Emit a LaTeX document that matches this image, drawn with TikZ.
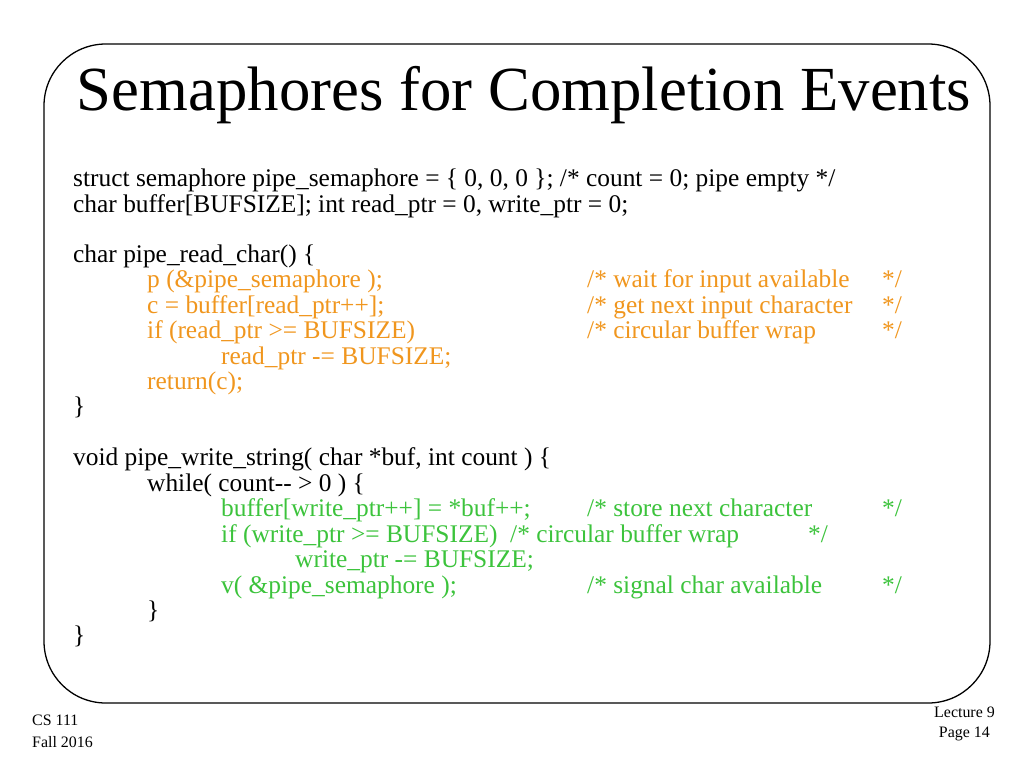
\documentclass[tikz,border=0pt]{standalone}
\usepackage{fontspec}
\setmainfont{Liberation Serif}
\definecolor{codeorange}{RGB}{240,150,30}
\definecolor{codegreen}{RGB}{60,195,60}
\tikzset{%
	% Style of the code lines
	Code/.style={anchor=base west,inner sep=0,font=\fontsize{25.5}{27}\selectfont},
	% Style of the footer text
	Foot/.style={inner sep=0,font=\fontsize{16}{18}\selectfont},
	% Style of the frame
	Frame/.style={line width=1.3pt,rounded corners=62},
}
\begin{document}
\begin{tikzpicture}[x=1bp,y=-1bp]
\useasboundingbox (0,0) rectangle (1024,768);

%~~~~~~~~~~~~~~~~~~~~~~~~~~~~~~~~~~~~~~~~~~~~~~~~~~
% Frame and title
%~~~~~~~~~~~~~~~~~~~~~~~~~~~~~~~~~~~~~~~~~~~~~~~~~~
\draw[Frame] (44,44) rectangle (990,703);
\node[anchor=base,inner sep=0,font=\fontsize{63}{65}\selectfont] (title) at (524,110) {Semaphores for Completion Events};

%~~~~~~~~~~~~~~~~~~~~~~~~~~~~~~~~~~~~~~~~~~~~~~~~~~
% Code lines
%~~~~~~~~~~~~~~~~~~~~~~~~~~~~~~~~~~~~~~~~~~~~~~~~~~
\node[Code] (L1) at (73,186) {struct semaphore pipe\_semaphore = \{ 0, 0, 0 \}; /* count = 0; pipe empty */};
\node[Code] (L2) at (73,212) {char buffer[BUFSIZE]; int read\_ptr = 0, write\_ptr = 0;};

\node[Code] (L3) at (73,262) {char pipe\_read\_char() \{};
\node[Code,codeorange] (L4) at (147,287) {p (\&pipe\_semaphore );};
\node[Code,codeorange] at (587,287) {/* wait for input available};
\node[Code,codeorange] at (882,287) {*/};
\node[Code,codeorange] (L5) at (147,313) {c = buffer[read\_ptr++];};
\node[Code,codeorange] at (587,313) {/* get next input character};
\node[Code,codeorange] at (882,313) {*/};
\node[Code,codeorange] (L6) at (147,338) {if (read\_ptr >= BUFSIZE)};
\node[Code,codeorange] at (587,338) {/* circular buffer wrap};
\node[Code,codeorange] at (882,338) {*/};
\node[Code,codeorange] (L7) at (221,364) {read\_ptr -= BUFSIZE;};
\node[Code,codeorange] (L8) at (147,389) {return(c);};
\node[Code] (L9) at (73,414) {\}};

\node[Code] (L10) at (73,465) {void pipe\_write\_string( char *buf, int count ) \{};
\node[Code] (L11) at (147,491) {while( count-{}- > 0 ) \{};
\node[Code,codegreen] (L12) at (221,516) {buffer[write\_ptr++] = *buf++;};
\node[Code,codegreen] at (587,516) {/* store next character};
\node[Code,codegreen] at (882,516) {*/};
\node[Code,codegreen] (L13) at (221,542) {if (write\_ptr >= BUFSIZE)\ \ /* circular buffer wrap};
\node[Code,codegreen] at (808,542) {*/};
\node[Code,codegreen] (L14) at (295,567) {write\_ptr -= BUFSIZE;};
\node[Code,codegreen] (L15) at (221,593) {v( \&pipe\_semaphore );};
\node[Code,codegreen] at (587,593) {/* signal char available};
\node[Code,codegreen] at (882,593) {*/};
\node[Code] (L16) at (147,618) {\}};
\node[Code] (L17) at (73,643) {\}};

%~~~~~~~~~~~~~~~~~~~~~~~~~~~~~~~~~~~~~~~~~~~~~~~~~~
% Footer
%~~~~~~~~~~~~~~~~~~~~~~~~~~~~~~~~~~~~~~~~~~~~~~~~~~
\node[Foot,anchor=west] (course) at (32,720) {CS 111};
\node[Foot,anchor=west] (term) at (32,742) {Fall 2016};
\node[Foot,anchor=east] (lecture) at (995,712) {Lecture 9};
\node[Foot,anchor=east] (page) at (990,734) {Page 14};
\end{tikzpicture}
\end{document}
